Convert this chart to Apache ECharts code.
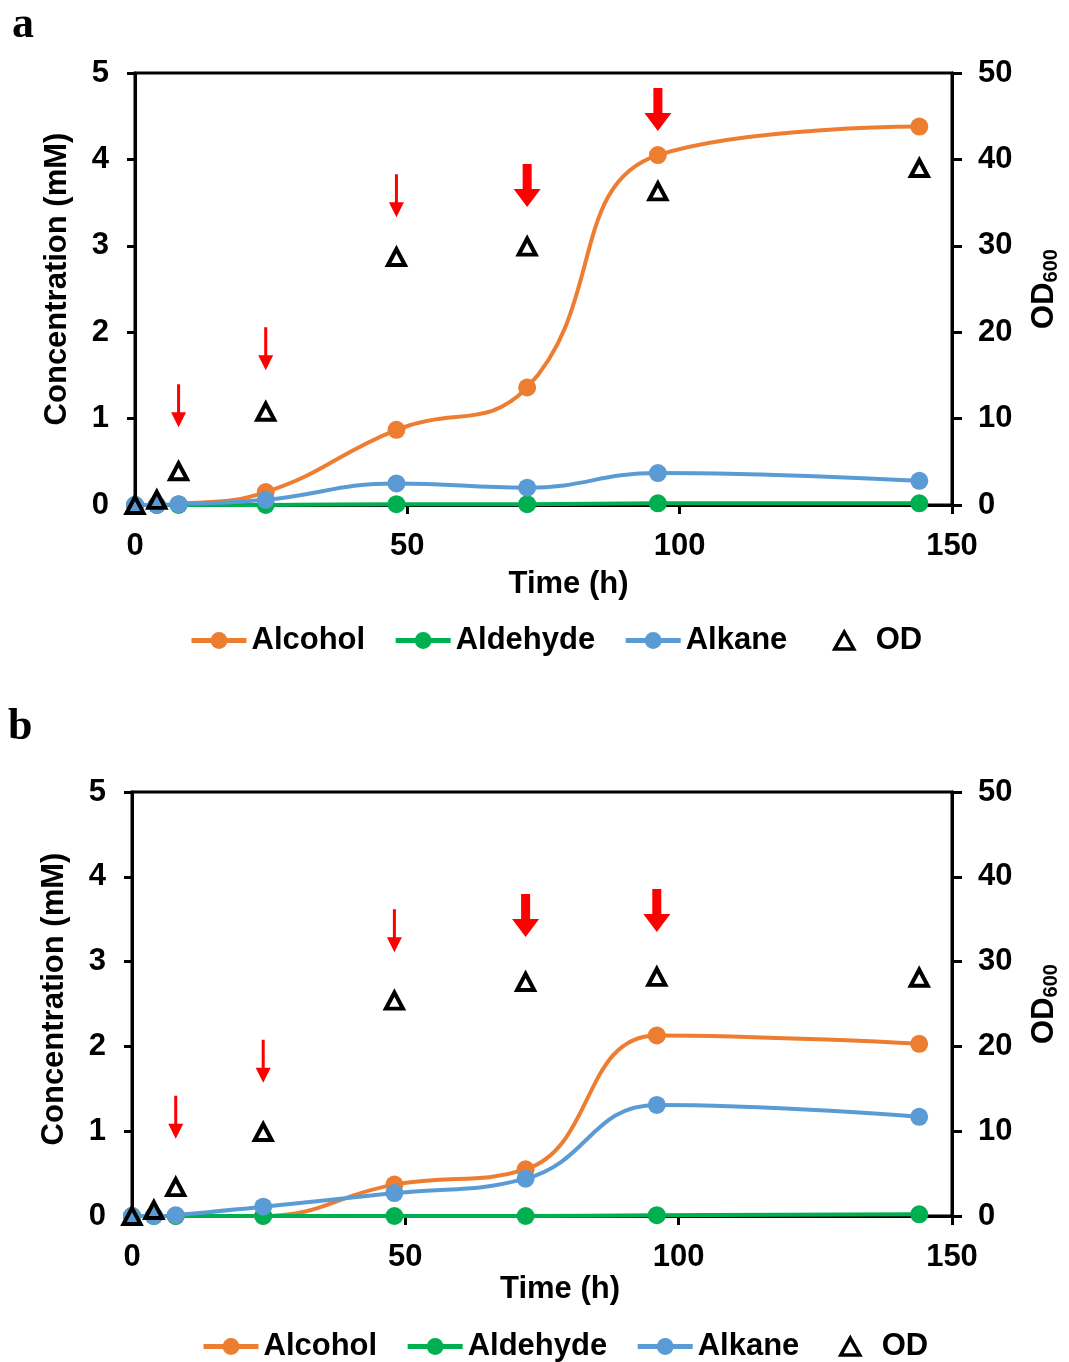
<!DOCTYPE html>
<html>
<head>
<meta charset="utf-8">
<script src="https://cdn.jsdelivr.net/npm/echarts@6/dist/echarts.min.js"></script>
<style>
  html, body { margin: 0; padding: 0; background: #fff; }
  #chart { width: 1069px; height: 1362px; }
</style>
</head>
<body>
<div id="chart"></div>
<script>
// Sampling times (h)
const hours = [0, 4, 8, 24, 48, 72, 96, 144];

// Panel a: product concentrations (mM) and OD600
const alcoholA  = [0, 0, 0.01, 0.15, 0.87, 1.36, 4.05, 4.38];
const aldehydeA = [0, 0, 0, 0, 0.01, 0.01, 0.02, 0.02];
const alkaneA   = [0, 0, 0.01, 0.06, 0.25, 0.20, 0.37, 0.28];
const odA       = [0, 0.6, 3.9, 10.8, 28.7, 29.9, 36.3, 39.0];

// Panel b
const alcoholB  = [0, 0, 0, 0, 0.37, 0.55, 2.13, 2.03];
const aldehydeB = [0, 0, 0, 0, 0, 0, 0.01, 0.02];
const alkaneB   = [0, 0, 0.01, 0.11, 0.27, 0.44, 1.31, 1.17];
const odB       = [0, 0.7, 3.4, 9.9, 25.4, 27.6, 28.2, 28.1];

// Feeding events: time (h), level the arrow points at (mM), large dose flag
const feedTimes = [8, 24, 48, 72, 96];
const feedLevelA = [0.90, 1.56, 3.33, 3.45, 4.33];
const feedLevelB = [0.91, 1.57, 3.11, 3.29, 3.35];
const feedLarge = [false, false, false, true, true];

// Axis ticks
const timeTicks = [0, 50, 100, 150];
const concTicks = [0, 1, 2, 3, 4, 5];
const odTicks = [0, 10, 20, 30, 40, 50];

const ORANGE = '#ED7D31', GREEN = '#00B050', BLUE = '#5B9BD5', RED = '#FF0000';
const FONT = '"Liberation Sans", Arial, sans-serif';
const SERIF = '"Liberation Serif", "Times New Roman", serif';

const thinArrow = 'path://M6,0 L9,0 L9,28 L15,28 L7.5,43 L0,28 L6,28 Z';
const thickArrow = 'path://M9,0 L18,0 L18,25 L27,25 L13.5,43 L0,25 L9,25 Z';

const pairs = (xs, ys) => xs.map((x, i) => [x, ys[i]]);

function lineSeries(name, color, values, gi) {
  return {
    name, type: 'line', xAxisIndex: gi, yAxisIndex: gi * 2,
    data: pairs(hours, values), smooth: 0.45, clip: false,
    symbol: 'circle', symbolSize: 18,
    lineStyle: { color, width: 4 },
    itemStyle: { color, opacity: 1 }, z: 3
  };
}
function odSeries(values, gi) {
  return {
    name: 'OD', type: 'scatter', xAxisIndex: gi, yAxisIndex: gi * 2 + 1,
    data: pairs(hours, values), clip: false,
    symbol: 'triangle', symbolSize: [17, 16], symbolKeepAspect: true,
    itemStyle: { color: 'rgba(0,0,0,0)', borderColor: '#000', borderWidth: 4, opacity: 1 }, z: 5
  };
}
function feedSeries(levels, gi) {
  return {
    name: 'feed', type: 'scatter', xAxisIndex: gi, yAxisIndex: gi * 2,
    clip: false, silent: true, z: 6,
    data: feedTimes.map((t, i) => ({
      value: [t, levels[i]],
      symbol: feedLarge[i] ? thickArrow : thinArrow,
      symbolSize: feedLarge[i] ? [27, 43] : [15, 43]
    })),
    symbolOffset: [0, '-50%'], symbolKeepAspect: false,
    itemStyle: { color: RED, opacity: 1 }
  };
}

const axisText = { color: '#000', fontSize: 31, fontWeight: 'bold', fontFamily: FONT };
const blackLine = { show: true, lineStyle: { color: '#000', width: 3 } };

function xAxis(gi, namePad, nameGap) {
  return {
    gridIndex: gi, type: 'value', min: timeTicks[0], max: timeTicks[timeTicks.length - 1],
    interval: timeTicks[1] - timeTicks[0],
    axisLine: blackLine, axisTick: { show: true, length: 9, inside: false, lineStyle: { color: '#000', width: 3 } },
    axisLabel: Object.assign({ margin: 26 }, axisText),
    splitLine: { show: false },
    name: 'Time (h)', nameLocation: 'middle', nameGap,
    nameTextStyle: Object.assign({ padding: [0, 0, 0, namePad] }, axisText)
  };
}
function yLeft(gi, namePad) {
  return {
    gridIndex: gi, type: 'value', position: 'left', min: concTicks[0],
    max: concTicks[concTicks.length - 1], interval: concTicks[1] - concTicks[0],
    axisLine: blackLine, axisTick: { show: true, length: 8, lineStyle: { color: '#000', width: 3 } },
    axisLabel: Object.assign({ margin: 26 }, axisText),
    splitLine: { show: false },
    name: 'Concentration (mM)', nameLocation: 'middle', nameGap: 62, nameRotate: 90,
    nameTextStyle: Object.assign({ padding: [0, 0, 0, namePad] }, axisText)
  };
}
function yRight(gi) {
  return {
    gridIndex: gi, type: 'value', position: 'right', min: odTicks[0],
    max: odTicks[odTicks.length - 1], interval: odTicks[1] - odTicks[0],
    axisLine: blackLine, axisTick: { show: true, length: 10, lineStyle: { color: '#000', width: 3 } },
    axisLabel: Object.assign({ margin: 26 }, axisText),
    splitLine: { show: false },
    name: '{a|OD}{b|600}', nameLocation: 'middle', nameGap: 75, nameRotate: 90,
    nameTextStyle: {
      color: '#000', fontFamily: FONT,
      rich: {
        a: { fontSize: 31, fontWeight: 'bold', fontFamily: FONT, color: '#000', lineHeight: 34 },
        b: { fontSize: 20, fontWeight: 'bold', fontFamily: FONT, color: '#000', verticalAlign: 'bottom', lineHeight: 34, padding: [12, 0, 0, 0] }
      }
    }
  };
}

const legendText = { color: '#000', fontSize: 31, fontWeight: 'bold', fontFamily: FONT };
// Product legend (line + marker icons)
function productLegend(left, top) {
  return {
    data: ['Alcohol', 'Aldehyde', 'Alkane'],
    left, top, padding: 0, orient: 'horizontal',
    itemWidth: 55, itemHeight: 21, itemGap: 28,
    lineStyle: { width: 5 },
    textStyle: legendText,
    selectedMode: false
  };
}
// OD legend (open triangle)
function odLegend(left, top) {
  return {
    data: [{ name: 'OD', icon: 'triangle',
      itemStyle: { color: 'rgba(0,0,0,0)', borderColor: '#000', borderWidth: 3.5 } }],
    left, top, padding: 0, orient: 'horizontal',
    itemWidth: 19, itemHeight: 17,
    textStyle: Object.assign({ padding: [0, 0, 0, 17] }, legendText),
    selectedMode: false
  };
}

const chart = echarts.init(document.getElementById('chart'), null, { renderer: 'canvas' });
chart.setOption({
  animation: false,
  backgroundColor: '#fff',
  textStyle: { fontFamily: FONT },
  grid: [
    { left: 135, right: 116, top: 73, height: 432, show: true, borderColor: '#000', borderWidth: 3 },
    { left: 132, right: 114, top: 792, height: 424, show: true, borderColor: '#000', borderWidth: 3 }
  ],
  xAxis: [xAxis(0, 50, 64), xAxis(1, 36, 58)],
  yAxis: [yLeft(0, 20), yRight(0), yLeft(1, 10), yRight(1)],
  legend: [
    productLegend(189, 625), odLegend(833, 625),
    productLegend(201, 1331), odLegend(839, 1331)
  ],
  graphic: [
    { type: 'text', left: 12, top: 4, style: { text: 'a', font: 'bold 44px ' + SERIF, fill: '#000' } },
    { type: 'text', left: 8, top: 706, style: { text: 'b', font: 'bold 44px ' + SERIF, fill: '#000' } }
  ],
  series: [
    lineSeries('Alcohol', ORANGE, alcoholA, 0),
    lineSeries('Aldehyde', GREEN, aldehydeA, 0),
    lineSeries('Alkane', BLUE, alkaneA, 0),
    odSeries(odA, 0),
    feedSeries(feedLevelA, 0),
    lineSeries('Alcohol', ORANGE, alcoholB, 1),
    lineSeries('Aldehyde', GREEN, aldehydeB, 1),
    lineSeries('Alkane', BLUE, alkaneB, 1),
    odSeries(odB, 1),
    feedSeries(feedLevelB, 1)
  ]
});
</script>
</body>
</html>
